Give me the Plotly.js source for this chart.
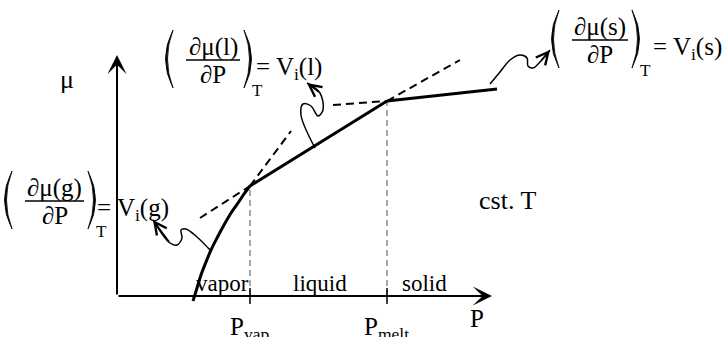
<!DOCTYPE html>
<html>
<head>
<meta charset="utf-8">
<script src="https://cdn.plot.ly/plotly-3.0.1.min.js"></script>
<style>
  html, body { margin: 0; padding: 0; background: #fff; }
  #chart { width: 723px; height: 337px; }
</style>
</head>
<body>
<div id="chart"></div>
<script>
// Chemical potential mu of a pure substance versus pressure P at constant T.
// Units are arbitrary (schematic); the origin is the corner of the axes.

// Transition pressures and the chemical potential at each of them
const P_VAP = 133, MU_VAP = 110;
const P_MELT = 270, MU_MELT = 195;

// Stable branches
const vaporP   = [76, 80, 84, 89, 94, 100, 107, 114, 121, 127, P_VAP];
const vaporMu  = [-5, 8, 21, 34, 46, 58, 71, 83, 93, 102, MU_VAP];
const liquidP  = [P_VAP, P_MELT];
const liquidMu = [MU_VAP, MU_MELT];
const solidP   = [P_MELT, 380];
const solidMu  = [MU_MELT, 207];

// Metastable continuations (dashed)
const liqLeftP   = [83, P_VAP],   liqLeftMu   = [78, MU_VAP];
const liqRightP  = [P_MELT, 343], liqRightMu  = [MU_MELT, 236];
const vapUpP     = [P_VAP, 174],  vapUpMu     = [MU_VAP, 165];
const solLeftP   = [216, P_MELT], solLeftMu   = [191, MU_MELT];

// Phase boundaries on the P axis
const tickP    = [P_VAP, P_MELT];
const tickMu   = [MU_VAP, MU_MELT];
const tickText = ['P<sub>vap</sub>', 'P<sub>melt</sub>'];

// Phase region names
const phaseNames = ['vapor', 'liquid', 'solid'];
const phaseNameP = [105, 203, 307];

// Wavy pointers from each branch to its slope expression
const waveGasP = [93, 80, 69, 64, 65, 60, 53, 36];
const waveGasMu = [46, 59, 67, 66, 58, 51, 53, 76];
const waveLiqP = [198, 184, 186, 194, 201, 206, 203, 190];
const waveLiqMu = [148, 181, 192, 190, 180, 186, 203, 213];
const waveSolP = [373, 383, 393, 403, 410, 411, 416, 423, 433];
const waveSolMu = [212, 224, 236, 241, 238, 230, 228, 234, 246];

// Slope expressions: phase symbol and where each one sits
const derivPhases = ['g', 'l', 's'];
const derivPlace = [
  { bx: -92, by: 95, w: 59, eqx: -20 },
  { bx: 69, by: 236, w: 54, eqx: 139 },
  { bx: 455, by: 256, w: 56, eqx: 536 }
];

const FONT = 'Liberation Serif, Times New Roman, serif';
const ASC = 0.891; // ascent of the serif face, in em

const traces = [];
const line = (x, y, width, dash, color, shape) => traces.push({
  x, y, type: 'scatter', mode: 'lines', hoverinfo: 'skip',
  line: { color: color || '#000', width, dash: dash || 'solid', shape: shape || 'linear', smoothing: 1 }
});

// phase boundaries (grey dashed verticals)
tickP.forEach((p, i) => line([p, p], [0, tickMu[i]], 1.5, '6px,4px', '#8c8c8c'));
// dashed tangents
line(liqLeftP, liqLeftMu, 2, '8px,5px');
line(liqRightP, liqRightMu, 2, '8px,5px');
line(vapUpP, vapUpMu, 2, '8px,5px');
line(solLeftP, solLeftMu, 2, '8px,5px');
// stable branches
line(vaporP, vaporMu, 3, 'solid', '#000', 'spline');
line(liquidP, liquidMu, 3);
line(solidP, solidMu, 3);
// tick marks on P axis
const tx = [], ty = [];
tickP.forEach(p => { tx.push(p, p, null); ty.push(-8, 8, null); });
line(tx, ty, 1.5);
// wavy pointers
line(waveGasP, waveGasMu, 1.5, 'solid', '#000', 'spline');
line(waveLiqP, waveLiqMu, 1.5, 'solid', '#000', 'spline');
line(waveSolP, waveSolMu, 1.5, 'solid', '#000', 'spline');

const ann = [];
const shapes = [];

// text placed by its baseline
function txt(x, base, text, size, xanchor) {
  ann.push({
    x, y: base + ASC * size, xref: 'x', yref: 'y', text, showarrow: false,
    xanchor: xanchor || 'left', yanchor: 'top', borderpad: 0, borderwidth: 0,
    font: { family: FONT, size, color: '#000' }
  });
}

// arrows drawn by the annotation engine
function arrow(x0, y0, x1, y1, head, size, width) {
  ann.push({
    x: x1, y: y1, ax: x0, ay: y0, xref: 'x', yref: 'y', axref: 'x', ayref: 'y',
    text: '', showarrow: true, arrowhead: head, arrowsize: size, arrowwidth: width,
    arrowcolor: '#000', standoff: 0, startstandoff: 0
  });
}

// tall bracket: a thin filled crescent whose bulge points to side s (-1 left, +1 right)
function bracket(x, yTop, yBot, s) {
  const ym = (yTop + yBot) / 2;
  shapes.push({ type: 'path', xref: 'x', yref: 'y',
    path: `M${x},${yTop} Q${x + s * 15},${ym} ${x},${yBot} Q${x + s * 11},${ym} ${x},${yTop} Z`,
    fillcolor: '#000', line: { color: '#000', width: 0.8 } });
}

// axes
arrow(0, 0, 375, 0, 3, 1.6, 2);
arrow(0, 0, 0, 241, 3, 1.6, 2);
txt(-57, 208, 'μ', 26);
txt(353, -31, 'P', 25);
txt(362, 87, 'cst. T', 26);

tickP.forEach((p, i) => txt(p - 1, -39, tickText[i], 25, 'center'));
phaseNames.forEach((n, i) => txt(phaseNameP[i], 5, n, 23, 'center'));

// arrow tips of the wavy pointers
[[waveGasP, waveGasMu], [waveLiqP, waveLiqMu], [waveSolP, waveSolMu]].forEach(([px, py]) => {
  const n = px.length;
  arrow(px[n - 2], py[n - 2], px[n - 1], py[n - 1], 5, 1.6, 1.5);
});

// (∂μ(x)/∂P)_T = V_i(x)
derivPhases.forEach((ph, i) => {
  const { bx, by, w, eqx } = derivPlace[i];
  const fs = 25;
  shapes.push({ type: 'line', xref: 'x', yref: 'y', x0: bx, x1: bx + w, y0: by, y1: by,
    line: { color: '#000', width: 1.3 } });
  bracket(bx - 13, by + 30, by - 28, -1);
  bracket(bx + w + 4, by + 30, by - 28, 1);
  txt(bx + w / 2, by + 5, `∂μ(${ph})`, fs, 'center');
  txt(bx + w / 2, by - 23, '∂P', fs, 'center');
  txt(bx + w + 12, by - 36, 'T', 17);
  txt(eqx, by - 15, `= V<sub>i</sub>(${ph})`, fs);
});

const layout = {
  width: 723, height: 337,
  margin: { l: 0, r: 0, t: 0, b: 0 },
  paper_bgcolor: '#fff', plot_bgcolor: '#fff',
  showlegend: false,
  xaxis: { visible: false, range: [-117, 606], fixedrange: true },
  yaxis: { visible: false, range: [-41, 296], fixedrange: true },
  annotations: ann,
  shapes: shapes
};

Plotly.newPlot('chart', traces, layout, { staticPlot: true, displayModeBar: false });
</script>
</body>
</html>
